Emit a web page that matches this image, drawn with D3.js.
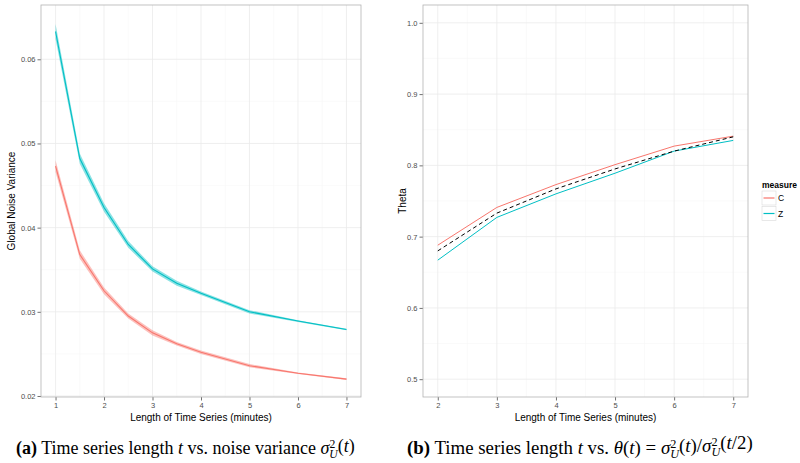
<!DOCTYPE html>
<html><head><meta charset="utf-8">
<script src="https://cdn.jsdelivr.net/npm/d3@7"></script>
<style>body{margin:0;background:#fff}svg{display:block}</style>
</head><body>
<svg id="c" width="800" height="463"></svg>
<script>
// ---- data ----
const lengthsA = [1, 1.5, 2, 2.5, 3, 3.5, 4, 5, 6, 7];
const noiseC = [0.0473, 0.0368, 0.0325, 0.0295, 0.0275, 0.0262, 0.0252, 0.0236, 0.0227, 0.0220];
const noiseCLow = [0.0466, 0.0363, 0.0321, 0.0292, 0.0272, 0.0260, 0.0250, 0.0234, 0.0226, 0.0219];
const noiseCHigh = [0.0480, 0.0373, 0.0329, 0.0298, 0.0278, 0.0264, 0.0254, 0.0238, 0.0228, 0.0221];
const noiseZ = [0.0633, 0.0482, 0.0424, 0.0380, 0.0351, 0.0334, 0.0322, 0.0300, 0.0289, 0.0279];
const noiseZLow = [0.0624, 0.0476, 0.0419, 0.0376, 0.0348, 0.0331, 0.0320, 0.0298, 0.0288, 0.0278];
const noiseZHigh = [0.0642, 0.0488, 0.0429, 0.0384, 0.0354, 0.0337, 0.0324, 0.0302, 0.0290, 0.0280];
const lengthsB = [2, 3, 4, 5, 6, 7];
const thetaC = [0.688, 0.741, 0.773, 0.801, 0.827, 0.841];
const thetaZ = [0.667, 0.727, 0.760, 0.789, 0.820, 0.835];
const thetaRef = [0.680, 0.733, 0.767, 0.795, 0.820, 0.840];
const xTicksA = [1, 2, 3, 4, 5, 6, 7];
const yTicksA = [0.02, 0.03, 0.04, 0.05, 0.06];
const xTicksB = [2, 3, 4, 5, 6, 7];
const yTicksB = [0.5, 0.6, 0.7, 0.8, 0.9, 1.0];
const measures = ["C", "Z"];
const colors = {C: "#F8766D", Z: "#00BFC4"};

const svg = d3.select("#c");
const SANS = "'Liberation Sans', Arial, sans-serif";
const SERIF = "'Liberation Serif', 'DejaVu Serif', serif";

function panel(box, xd, yd, xt, yt, xMinor, yMinor, yFmt, yTitle, yTitleX) {
  const x = d3.scaleLinear().domain(xd).range([box.x0, box.x1]);
  const y = d3.scaleLinear().domain(yd).range([box.y1, box.y0]);
  const g = svg.append("g");
  g.append("rect").attr("x", box.x0).attr("y", box.y0).attr("width", box.x1 - box.x0)
    .attr("height", box.y1 - box.y0).attr("fill", "#fff");
  g.selectAll(".mx").data(xMinor).join("line").attr("x1", d => x(d)).attr("x2", d => x(d))
    .attr("y1", box.y0).attr("y2", box.y1).attr("stroke", "#f7f7f7").attr("stroke-width", 0.6);
  g.selectAll(".my").data(yMinor).join("line").attr("y1", d => y(d)).attr("y2", d => y(d))
    .attr("x1", box.x0).attr("x2", box.x1).attr("stroke", "#f7f7f7").attr("stroke-width", 0.6);
  g.selectAll(".gx").data(xt).join("line").attr("x1", d => x(d)).attr("x2", d => x(d))
    .attr("y1", box.y0).attr("y2", box.y1).attr("stroke", "#ebebeb").attr("stroke-width", 0.8);
  g.selectAll(".gy").data(yt).join("line").attr("y1", d => y(d)).attr("y2", d => y(d))
    .attr("x1", box.x0).attr("x2", box.x1).attr("stroke", "#ebebeb").attr("stroke-width", 0.8);
  const ax = g.append("g").attr("transform", `translate(0,${box.y1})`)
    .call(d3.axisBottom(x).tickValues(xt).tickSize(3.5).tickPadding(2).tickFormat(d3.format("d")));
  const ay = g.append("g").attr("transform", `translate(${box.x0},0)`)
    .call(d3.axisLeft(y).tickValues(yt).tickSize(3.5).tickPadding(2).tickFormat(yFmt));
  [ax, ay].forEach(a => {
    a.select(".domain").remove();
    a.selectAll(".tick line").attr("stroke", "#333").attr("stroke-width", 0.7);
    a.selectAll(".tick text").attr("fill", "#4d4d4d").style("font-family", SANS).style("font-size", "7.5px");
  });
  g.append("text").attr("x", (box.x0 + box.x1) / 2).attr("y", 421).attr("text-anchor", "middle")
    .style("font-family", SANS).style("font-size", "10px").attr("fill", "#000")
    .text("Length of Time Series (minutes)");
  g.append("text").attr("transform", `translate(${yTitleX},${(box.y0 + box.y1) / 2}) rotate(-90)`)
    .attr("text-anchor", "middle").style("font-family", SANS).style("font-size", "10px")
    .text(yTitle);
  return {x, y, g, box};
}

// ---- panel a ----
const A = panel({x0: 41, x1: 361, y0: 5, y1: 397}, [0.7, 7.3], [0.01988, 0.06645],
  xTicksA, yTicksA, [1.5, 2.5, 3.5, 4.5, 5.5, 6.5], [0.025, 0.035, 0.045, 0.055],
  d3.format(".2f"), "Global Noise Variance", 14.5);
const seriesA = [
  {m: "C", mean: noiseC, lo: noiseCLow, hi: noiseCHigh},
  {m: "Z", mean: noiseZ, lo: noiseZLow, hi: noiseZHigh}
];
seriesA.forEach(s => {
  const pts = lengthsA.map((t, i) => ({t, v: s.mean[i], lo: s.lo[i], hi: s.hi[i]}));
  A.g.append("path").datum(pts).attr("fill", colors[s.m]).attr("fill-opacity", 0.45)
    .attr("d", d3.area().x(d => A.x(d.t)).y0(d => A.y(d.lo)).y1(d => A.y(d.hi)));
  A.g.append("path").datum(pts).attr("fill", "none").attr("stroke", colors[s.m]).attr("stroke-width", 1.1)
    .attr("d", d3.line().x(d => A.x(d.t)).y(d => A.y(d.v)));
});
A.g.append("rect").attr("x", 41).attr("y", 5).attr("width", 320).attr("height", 392)
  .attr("fill", "none").attr("stroke", "#b3b3b3").attr("stroke-width", 0.8);

// ---- panel b ----
const B = panel({x0: 423, x1: 748, y0: 5, y1: 397}, [1.75, 7.25], [0.475, 1.025],
  xTicksB, yTicksB, [2.5, 3.5, 4.5, 5.5, 6.5], [0.55, 0.65, 0.75, 0.85, 0.95],
  d3.format(".1f"), "Theta", 405.5);
const seriesB = [{m: "C", v: thetaC}, {m: "Z", v: thetaZ}];
const lineB = d3.line().x(d => B.x(d.t)).y(d => B.y(d.v));
seriesB.forEach(s => {
  B.g.append("path").datum(lengthsB.map((t, i) => ({t, v: s.v[i]})))
    .attr("fill", "none").attr("stroke", colors[s.m]).attr("stroke-width", 1)
    .attr("d", lineB);
});
B.g.append("path").datum(lengthsB.map((t, i) => ({t, v: thetaRef[i]})))
  .attr("fill", "none").attr("stroke", "#000").attr("stroke-width", 1)
  .attr("stroke-dasharray", "4,3").attr("d", lineB);
B.g.append("rect").attr("x", 423).attr("y", 5).attr("width", 325).attr("height", 392)
  .attr("fill", "none").attr("stroke", "#b3b3b3").attr("stroke-width", 0.8);

// ---- legend ----
const lg = svg.append("g");
lg.append("text").attr("x", 762).attr("y", 188).style("font-family", SANS)
  .style("font-size", "8.5px").style("font-weight", "bold").text("measure");
measures.forEach((m, i) => {
  const yy = 191 + i * 15.5;
  lg.append("rect").attr("x", 762).attr("y", yy).attr("width", 14).attr("height", 14)
    .attr("fill", "#fff").attr("stroke", "#d9d9d9").attr("stroke-width", 0.6);
  lg.append("line").attr("x1", 763.5).attr("x2", 774.5).attr("y1", yy + 7).attr("y2", yy + 7)
    .attr("stroke", colors[m]).attr("stroke-width", 1.2);
  lg.append("text").attr("x", 778).attr("y", yy + 10).style("font-family", SANS)
    .style("font-size", "8.5px").text(m);
});

// ---- captions ----
function caption(x0, targetW, label, parts) {
  const t = svg.append("text").attr("x", x0).attr("y", 454).style("font-family", SERIF)
    .style("font-size", "16px").attr("fill", "#000");
  t.append("tspan").style("font-weight", "bold").text(label);
  parts.forEach(p => {
    const ts = t.append("tspan").text(p.s);
    if (p.i) ts.style("font-style", "italic");
    if (p.fs) ts.style("font-size", p.fs);
    if (p.dy) ts.attr("dy", p.dy);
    if (p.dx) ts.attr("dx", p.dx);
  });
  const w = t.node().getBBox().width;
  t.style("font-size", (16 * targetW / w) + "px");
}
const sig = (after) => [
  {s: "σ", i: true},
  {s: "2", fs: "0.65em", dy: "-0.5em"},
  {s: "U", i: true, fs: "0.65em", dy: "0.85em", dx: "-0.5em"},
  {s: after[0], dy: "-0.35em"}
];
caption(16, 339, "(a)", [
  {s: " Time series length "}, {s: "t", i: true}, {s: " vs. noise variance "},
  ...sig(["("]), {s: "t", i: true}, {s: ")"}
]);
caption(407, 346, "(b)", [
  {s: " Time series length "}, {s: "t", i: true}, {s: " vs. "}, {s: "θ", i: true},
  {s: "("}, {s: "t", i: true}, {s: ") = "},
  ...sig(["("]), {s: "t", i: true}, {s: ")/"},
  ...sig(["("]), {s: "t", i: true}, {s: "/2)"}
]);
</script>
</body></html>
